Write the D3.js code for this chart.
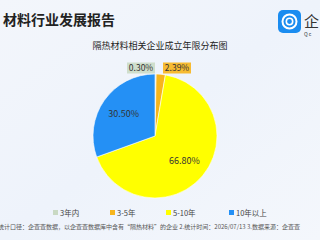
<!DOCTYPE html>
<html>
<head>
<meta charset="utf-8">
<script src="https://cdn.jsdelivr.net/npm/d3@7"></script>
<style>
  body { margin: 0; overflow: hidden; }
  text { font-family: "Noto Sans CJK SC", "Noto Sans", sans-serif; }
</style>
</head>
<body>
<script>
// chart data
var categories = ["3年内", "3-5年", "5-10年", "10年以上"];
var values = [0.30, 2.39, 66.80, 30.50];
var colors = ["#c9d9c3", "#f7b51c", "#ffff00", "#2490f5"];

var svgWidth = 320;
var svgHeight = 240;

var svg = d3.select("body")
  .append("svg")
  .attr("width", svgWidth)
  .attr("height", svgHeight);

// background
var grad = svg.append("defs").append("linearGradient")
  .attr("id", "bg").attr("x1", 0).attr("y1", 0).attr("x2", 1).attr("y2", 1);
grad.append("stop").attr("offset", "0%").attr("stop-color", "#f3f6fb");
grad.append("stop").attr("offset", "50%").attr("stop-color", "#eef3fb");
grad.append("stop").attr("offset", "100%").attr("stop-color", "#f4f7fc");
svg.append("rect").attr("width", svgWidth).attr("height", svgHeight).attr("fill", "url(#bg)");

// header
svg.append("text")
  .attr("x", 3).attr("y", 25)
  .attr("font-size", 14).attr("font-weight", "bold").attr("fill", "#222")
  .text("材料行业发展报告");

// logo
var logo = svg.append("g").attr("transform", "translate(278,10)");
logo.append("rect").attr("width", 23).attr("height", 23).attr("rx", 5).attr("fill", "#1a8cf0");
logo.append("circle").attr("cx", 11.5).attr("cy", 11.5).attr("r", 7)
  .attr("fill", "none").attr("stroke", "#fff").attr("stroke-width", 2);
logo.append("circle").attr("cx", 11.5).attr("cy", 11.5).attr("r", 3.2)
  .attr("fill", "none").attr("stroke", "#fff").attr("stroke-width", 1.6);
logo.append("text").attr("x", 26).attr("y", 17).attr("font-size", 15).attr("fill", "#333").text("企");
logo.append("text").attr("x", 26).attr("y", 26).attr("font-size", 5).attr("fill", "#333").text("Q c");

svg.append("text")
  .attr("x", 160).attr("y", 49)
  .attr("text-anchor", "middle")
  .attr("font-size", 9).attr("fill", "#222")
  .text("隔热材料相关企业成立年限分布图");

// pie
var cx = 155, cy = 136, radius = 62;
var pieGroup = svg.append("g").attr("transform", `translate(${cx}, ${cy})`);

var pie = d3.pie().sort(null).value(d => d);
var arcs = pie(values);
var arc = d3.arc().innerRadius(0).outerRadius(radius);

pieGroup.selectAll("path")
  .data(arcs)
  .enter()
  .append("path")
  .attr("d", arc)
  .attr("fill", (d, i) => colors[i])
  .attr("stroke", "#fff")
  .attr("stroke-width", 0.6);

// inside labels for big slices
var inner = d3.arc().innerRadius(radius * 0.62).outerRadius(radius * 0.62);
pieGroup.selectAll("text.inside")
  .data(arcs.filter(d => d.data > 10))
  .enter()
  .append("text")
  .attr("class", "inside")
  .attr("transform", d => `translate(${inner.centroid(d)})`)
  .attr("text-anchor", "middle")
  .attr("dy", "0.35em")
  .attr("font-size", 9).attr("fill", "#333")
  .text(d => d.data.toFixed(2) + "%");

// outside boxed labels for small slices
var boxX = [-14, 22];
arcs.filter(d => d.data < 10).forEach(function(d, k) {
  var i = d.index;
  var g = pieGroup.append("g").attr("transform", `translate(${boxX[k]}, ${-radius - 6})`);
  var t = g.append("text")
    .attr("text-anchor", "middle")
    .attr("dy", "0.35em")
    .attr("font-size", 8.5).attr("fill", "#333")
    .text(d.data.toFixed(2) + "%");
  var w = 28;
  g.insert("rect", "text")
    .attr("x", -w / 2).attr("y", -5.5)
    .attr("width", w).attr("height", 11)
    .attr("fill", colors[i]).attr("opacity", i === 0 ? 0.85 : 0.9);
});

// legend
var legendX = [53, 110, 166, 229];
var legend = svg.append("g").attr("transform", "translate(0, 213)");
categories.forEach(function(c, i) {
  legend.append("rect")
    .attr("x", legendX[i]).attr("y", -3).attr("width", 5).attr("height", 5)
    .attr("fill", colors[i]);
  legend.append("text")
    .attr("x", legendX[i] + 7).attr("y", 0)
    .attr("dy", "0.35em")
    .attr("font-size", 7.5).attr("fill", "#444")
    .text(c);
});

// footer note
svg.append("text")
  .attr("x", -2).attr("y", 229)
  .attr("font-size", 6).attr("fill", "#555")
  .text("统计口径：企查查数据，以企查查数据库中含有“隔热材料”的企业  2.统计时间：2026/07/13  3.数据来源：企查查");
</script>
</body>
</html>
